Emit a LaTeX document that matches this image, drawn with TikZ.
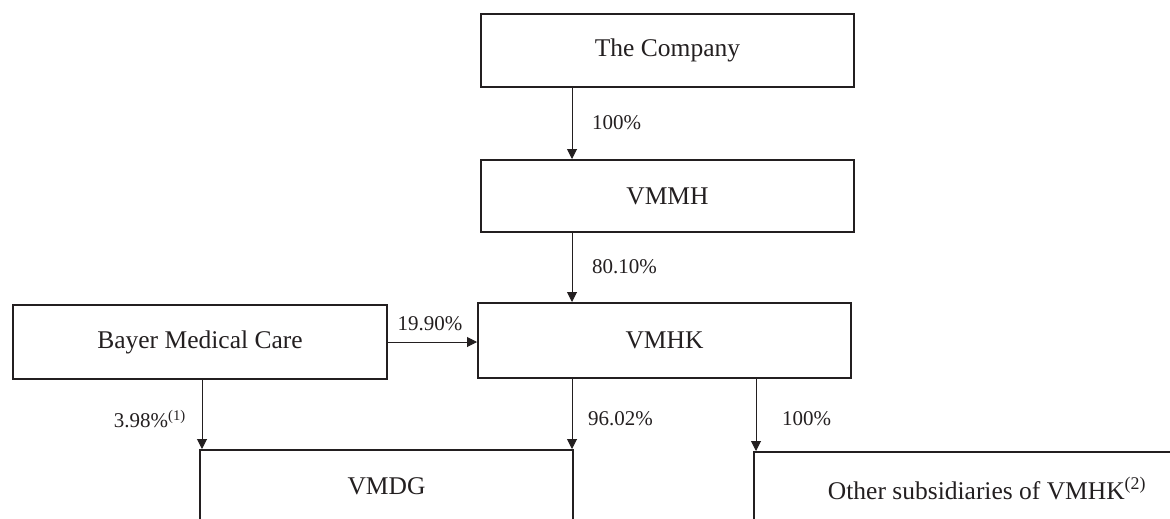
\documentclass[tikz,border=0pt]{standalone}
\usepackage{fontspec}
\setmainfont{Liberation Serif}
\usetikzlibrary{arrows.meta}
\definecolor{ink}{HTML}{231F20}
\tikzset{
  box/.style={draw=ink, line width=2pt, rectangle, minimum width=373pt, minimum height=73pt, inner sep=0pt, text=ink, font=\fontsize{25.5}{30}\selectfont},
  arr/.style={draw=ink, line width=1pt, -{Triangle[length=10pt,width=10pt]}},
  lbl/.style={text=ink, inner sep=0pt, font=\fontsize{21}{25}\selectfont}
}
\begin{document}
\begin{tikzpicture}[x=1pt,y=-1pt]
\useasboundingbox (0,0) rectangle (1170,519);
\clip (0,0) rectangle (1170,519);
\node[box] (company) at (667.5,50.5) {The Company};
\node[box, minimum height=72pt] (vmmh) at (667.5,196) {VMMH};
\node[box, minimum height=75pt] (vmhk) at (664.5,340.5) {VMHK};
\node[box, minimum width=374pt, minimum height=74pt] (bayer) at (200,342) {Bayer Medical Care};
\node[box] (vmdg) at (386.5,486.5) {VMDG};
\node[box, minimum width=466pt] (other) at (987,488.5) {Other subsidiaries of VMHK\textsuperscript{(2)}};
\coordinate (c1) at (572,0);
\coordinate (c2) at (202,0);
\coordinate (c3) at (572,0);
\coordinate (c4) at (756,0);
\draw[arr] (company.south -| c1) -- (vmmh.north -| c1);
\draw[arr] (vmmh.south -| c1) -- (vmhk.north -| c1);
\draw[arr] (bayer.east) -- (vmhk.west |- bayer.east);
\draw[arr] (bayer.south -| c2) -- (vmdg.north -| c2);
\draw[arr] (vmhk.south -| c3) -- (vmdg.north -| c3);
\draw[arr] (vmhk.south -| c4) -- (other.north -| c4);
\node[lbl, anchor=west] (l1) at (592,123) {100\%};
\node[lbl, anchor=west] (l2) at (592,267) {80.10\%};
\node[lbl] (l3) at (430,324) {19.90\%};
\node[lbl, anchor=east] (l4) at (186,419) {3.98\%\textsuperscript{(1)}};
\node[lbl, anchor=west] (l5) at (588,419) {96.02\%};
\node[lbl, anchor=west] (l6) at (782,419) {100\%};
\end{tikzpicture}
\end{document}
